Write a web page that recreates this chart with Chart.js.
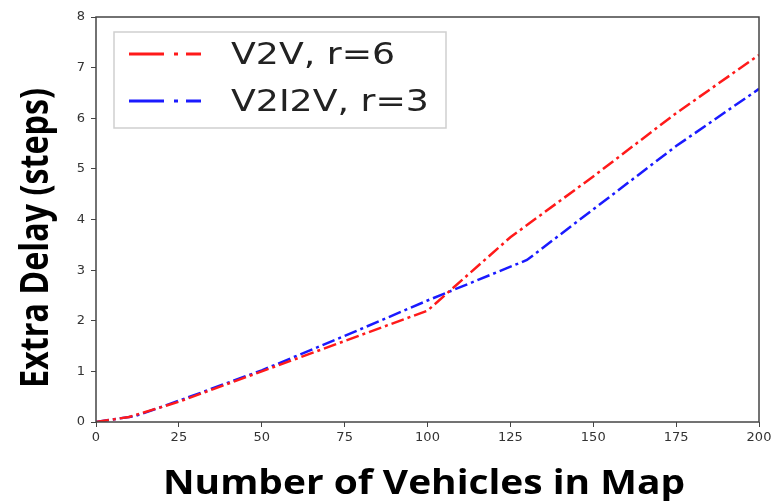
<!DOCTYPE html>
<html lang="en">
<head>
    <meta charset="UTF-8">
    <title>Extra Delay vs Number of Vehicles</title>
    <script src="https://cdn.jsdelivr.net/npm/chart.js"></script>
    <style>
        body { margin: 0; background: #fff; }
        #wrap { width: 775px; height: 501px; }
    </style>
</head>
<body>
<div id="wrap"><canvas id="delay-chart" width="775" height="501"></canvas></div>

<script>
    // values
    const v2vX = [0, 10, 25, 50, 75, 100, 125, 150, 175, 200];
    const v2vY = [0, 0.1, 0.4, 1.0, 1.6, 2.2, 3.65, 4.85, 6.1, 7.25];
    const v2i2vX = [0, 12, 25, 50, 75, 100, 130, 150, 175, 200];
    const v2i2vY = [0, 0.12, 0.42, 1.02, 1.7, 2.4, 3.2, 4.2, 5.45, 6.58];
    const seriesLabels = ['V2V, r=6', 'V2I2V, r=3'];
    const xTicks = [0, 25, 50, 75, 100, 125, 150, 175, 200];
    const yTicks = [0, 1, 2, 3, 4, 5, 6, 7, 8];
    const xTitle = 'Number of Vehicles in Map';
    const yTitle = 'Extra Delay (steps)';

    const dashDot = [13, 4, 3, 4];
    const legendDash = [35, 10, 4, 8];

    function toPoints(xs, ys) {
        return xs.map((x, i) => ({ x: x, y: ys[i] }));
    }

    // draws text squeezed/stretched along its length to a given span
    function fitText(ctx, text, font, cx, cy, span, angle) {
        ctx.save();
        ctx.font = font;
        const w = ctx.measureText(text).width;
        ctx.translate(cx, cy);
        ctx.rotate(angle);
        ctx.scale(span / w, 1);
        ctx.textAlign = 'center';
        ctx.textBaseline = 'alphabetic';
        ctx.fillText(text, 0, 0);
        ctx.restore();
    }

    // frame, axis titles and legend, matplotlib style
    const frameAndLegend = {
        id: 'frameAndLegend',
        afterDraw(chart) {
            const ctx = chart.ctx;
            const a = chart.chartArea;
            ctx.save();
            ctx.strokeStyle = '#444';
            ctx.lineWidth = 1.5;
            ctx.strokeRect(a.left, a.top, a.right - a.left, a.bottom - a.top);

            ctx.fillStyle = '#000';
            fitText(ctx, xTitle, 'bold 34px "Open Sans"', 424, 494, 522, 0);
            fitText(ctx, yTitle, 'bold 39px "Open Sans"', 48, 238, 300, -Math.PI / 2);

            // legend box
            const bx = a.left + 18, by = a.top + 15, bw = 332, bh = 96;
            ctx.fillStyle = 'rgba(255,255,255,0.9)';
            ctx.strokeStyle = '#d0d0d0';
            ctx.lineWidth = 1.5;
            ctx.beginPath();
            ctx.rect(bx, by, bw, bh);
            ctx.fill();
            ctx.stroke();

            chart.data.datasets.forEach((ds, i) => {
                const y = by + 22 + i * 47;
                ctx.strokeStyle = ds.borderColor;
                ctx.lineWidth = 3;
                ctx.setLineDash(legendDash);
                ctx.beginPath();
                ctx.moveTo(bx + 15, y);
                ctx.lineTo(bx + 87, y);
                ctx.stroke();
                ctx.setLineDash([]);
                ctx.fillStyle = '#222';
                ctx.font = '31px "DejaVu Sans"';
                ctx.save();
                ctx.translate(bx + 117, y + 2);
                ctx.scale(1.17, 1);
                ctx.textBaseline = 'middle';
                ctx.fillText(ds.label, 0, 0);
                ctx.restore();
            });
            ctx.restore();
        }
    };

    const ctx = document.getElementById('delay-chart').getContext('2d');
    new Chart(ctx, {
        type: 'line',
        data: {
            datasets: [
                {
                    label: seriesLabels[0],
                    data: toPoints(v2vX, v2vY),
                    borderColor: '#ff1a1a',
                    borderWidth: 2.5,
                    borderDash: dashDot,
                    pointRadius: 0,
                    tension: 0,
                    fill: false
                },
                {
                    label: seriesLabels[1],
                    data: toPoints(v2i2vX, v2i2vY),
                    borderColor: '#1a1aff',
                    borderWidth: 2.5,
                    borderDash: dashDot,
                    pointRadius: 0,
                    tension: 0,
                    fill: false
                }
            ]
        },
        options: {
            responsive: false,
            animation: false,
            layout: { padding: { top: 17, right: 16, left: 0, bottom: 0 } },
            plugins: {
                legend: { display: false },
                tooltip: { enabled: false }
            },
            scales: {
                x: {
                    type: 'linear',
                    min: 0,
                    max: 200,
                    afterBuildTicks: s => { s.ticks = xTicks.map(v => ({ value: v })); },
                    afterFit: s => { s.height = 79; },
                    grid: { drawOnChartArea: false, drawTicks: true, tickLength: 5, tickColor: '#444' },
                    border: { display: false },
                    ticks: { color: '#333', font: { family: 'DejaVu Sans', size: 13 }, padding: 3, maxRotation: 0 }
                },
                y: {
                    type: 'linear',
                    min: 0,
                    max: 8,
                    afterBuildTicks: s => { s.ticks = yTicks.map(v => ({ value: v })); },
                    afterFit: s => { s.width = 96; },
                    grid: { drawOnChartArea: false, drawTicks: true, tickLength: 5, tickColor: '#444' },
                    border: { display: false },
                    ticks: { color: '#333', font: { family: 'DejaVu Sans', size: 13 }, padding: 6 }
                }
            }
        },
        plugins: [frameAndLegend]
    });
</script>
</body>
</html>
